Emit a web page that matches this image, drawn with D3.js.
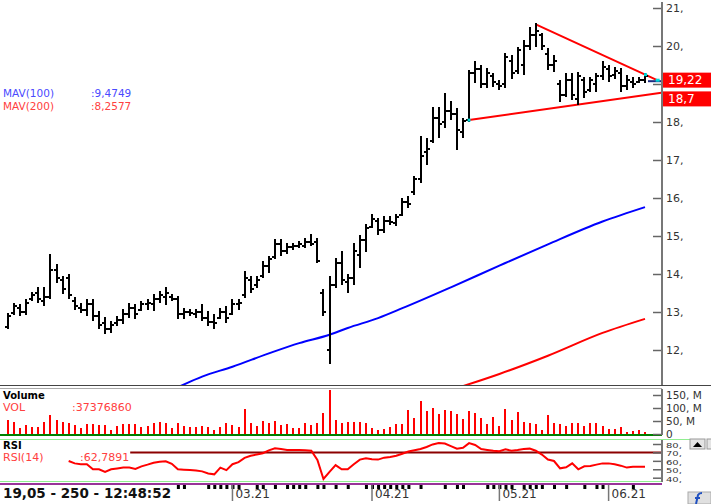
<!DOCTYPE html>
<html>
<head>
<meta charset="utf-8">
<script src="https://cdn.jsdelivr.net/npm/d3@7"></script>
<style>
  html, body { margin: 0; padding: 0; background: #fff; }
  svg { display: block; font-family: "DejaVu Sans", sans-serif; }
</style>
</head>
<body>
<svg id="chart" width="711" height="504"></svg>
<script>
// OHLC günlük barlar (soldan sağa), hacim milyon adet, RSI(14)
const high = [12.94,13.22,13.18,13.31,13.49,13.62,13.62,14.49,14.23,13.92,
  13.97,13.36,13.22,13.31,13.31,13.0,12.83,12.74,12.87,13.05,
  13.2,13.18,13.27,13.31,13.44,13.53,13.62,13.44,13.40,13.09,
  13.05,13.05,13.18,13.01,12.92,13.09,13.14,13.31,13.31,14.06,
  13.92,13.92,14.32,14.45,14.89,14.89,14.80,14.80,14.84,14.93,
  15.02,14.93,13.57,13.92,14.40,14.58,13.97,14.80,15.0,15.28,
  15.54,15.45,15.50,15.50,15.54,15.98,16.02,16.55,17.60,17.55,
  18.38,18.38,18.73,18.52,18.34,18.08,19.35,19.58,19.48,19.39,
  19.26,19.08,19.78,19.74,19.96,20.13,20.48,20.57,20.31,19.92,
  19.74,19.08,19.26,19.26,19.30,19.17,19.17,19.26,19.57,19.48,
  19.43,19.39,19.22,19.17,19.17,19.26];
const low = [12.57,12.96,12.92,12.96,13.31,13.27,13.18,13.36,13.79,13.49,
  13.36,13.09,13.0,12.92,12.79,12.57,12.44,12.48,12.66,12.70,
  12.87,12.83,13.05,13.09,13.05,13.27,13.22,13.31,12.83,12.83,
  12.92,12.88,12.79,12.66,12.57,12.83,12.74,12.96,13.09,13.40,
  13.53,13.66,13.92,14.06,14.41,14.49,14.54,14.67,14.71,14.71,
  14.76,14.32,12.92,11.65,13.66,13.75,13.53,13.75,14.19,14.60,
  15.24,15.06,15.10,15.32,15.28,15.54,15.76,16.11,16.42,16.90,
  17.47,17.60,17.86,18.08,17.29,17.60,18.03,19.05,18.91,18.91,
  18.95,18.87,18.91,19.17,19.30,19.26,19.92,20.0,19.92,19.39,
  19.35,18.56,18.69,18.60,18.47,18.65,18.82,18.82,19.13,19.08,
  19.17,18.82,18.87,18.91,19.04,19.04];
const open = [12.6,12.98,13.1,13.0,13.35,13.5,13.3,13.4,14.1,13.85,
  13.9,13.3,13.1,13.05,13.2,12.9,12.7,12.55,12.7,12.8,
  12.95,13.1,13.05,13.2,13.2,13.35,13.4,13.4,13.35,12.95,
  13.0,12.95,13.0,12.85,12.75,12.85,13.0,12.95,13.2,13.45,
  13.85,13.7,13.95,14.2,14.45,14.8,14.6,14.7,14.75,14.75,
  14.85,14.85,13.5,12.0,13.7,14.3,13.8,13.9,14.5,14.9,
  15.25,15.4,15.15,15.4,15.35,15.55,15.9,16.15,16.5,17.2,
  17.5,18.1,18.0,18.3,18.2,17.75,18.05,19.3,19.4,19.0,
  19.2,19.0,19.0,19.6,19.35,19.5,20.0,20.3,20.3,19.8,
  19.5,19.0,18.7,19.1,18.6,19.1,18.85,19.0,19.2,19.4,
  19.25,19.3,18.95,19.05,19.05,19.1];
const close = [12.9,13.15,13.0,13.25,13.45,13.35,13.4,14.1,13.9,13.6,
  13.45,13.15,13.05,13.2,12.9,12.65,12.55,12.65,12.8,12.95,
  13.1,12.95,13.2,13.25,13.35,13.45,13.5,13.35,12.95,13.0,
  12.98,13.0,12.85,12.75,12.7,13.0,12.85,13.2,13.25,13.9,
  13.6,13.85,14.2,14.4,14.8,14.6,14.7,14.75,14.78,14.85,
  14.8,14.35,13.0,13.7,14.3,13.85,13.9,14.6,14.9,15.2,
  15.45,15.15,15.4,15.38,15.5,15.9,15.85,16.5,17.1,17.3,
  18.1,17.95,18.3,18.2,17.8,18.03,19.3,19.4,19.0,19.3,
  19.05,18.95,19.7,19.3,19.9,20.0,20.3,20.4,20.0,19.5,
  19.6,18.7,19.1,18.7,19.2,18.8,19.1,19.2,19.45,19.2,
  19.35,18.95,19.1,19.0,19.1,19.22];
const volume = [54,47,22,35,28,26,45,73,54,45,
  44,35,24,37,37,35,35,15,31,37,
  37,37,26,32,44,47,44,24,41,31,
  26,26,32,26,15,28,41,35,28,95,
  44,31,50,44,50,35,37,22,22,44,
  35,44,80,170,54,44,47,47,47,44,
  22,15,18,26,38,38,92,60,127,90,
  99,77,92,90,77,56,88,80,60,38,
  64,31,96,54,83,45,41,38,15,73,
  44,37,31,41,41,31,44,44,32,18,
  18,26,9,13,15,9];
const rsiStart = 10;
const rsi = [59.8,57,56,56,50,50,47,50,51,52,
  52,50.5,53.5,55.5,57.8,59,59.5,56.5,50,49.5,
  49,48.5,47.5,45,44,52,49,56,58.5,63.5,
  66,67.5,69,72.5,75,74,72.9,72.9,72.9,72.5,
  72,61,38.5,47,55,50,50,56,61.5,63,
  62,61.5,63.8,64.5,66,68.5,71,72.5,74,76.5,
  79.5,81.3,80.5,77.5,74.5,75.5,81,78.8,74,73,
  72,71.5,73.7,72,72.9,74,74.5,72,67.5,61.5,
  59.8,51.1,52.3,57,50,53.5,53.9,55.5,57,57,
  56,54.3,52,53,53,53];
// hareketli ortalamalar, resimden okunan noktalar (bar indeksi, fiyat)
const ma100Idx = [28,32,37,43,48,53,56,61,65,73,81,89,98,105];
const ma100 = [11.02,11.30,11.56,11.91,12.18,12.40,12.58,12.84,13.10,13.65,14.22,14.78,15.38,15.76];
const ma200Idx = [75,81,89,98,105];
const ma200 = [11.05,11.37,11.85,12.45,12.82];
// üçgen formasyonu trend çizgileri
const trendTop = [[87,20.57],[107,19.1]];
const trendBottom = [[76,18.05],[107.7,18.77]];

const priceTicks = [12,13,14,15,16,17,18,19,20,21];
const hiddenPriceLabels = [19];   // kutuların altında kalıyor
const volTicks = [0,50,100,150];
const rsiTicks = [40,50,60,70,80];
const monthIdx = [37,60,81,99];
const monthLabels = ["03.21","04.21","05.21","06.21"];
const dayMarks = [28,29,33,34,35,36,37,38,41,42,44,46,47,48,49,51,52,54,56,59,60,61,62,63,64,65,66,68,72,74,75,79,80,81,82,83,85,86,87,88,90,92,95,97,98,103];
const lastClose = "19,22", lowerLevel = "18,7";

const W = 711, H = 504, axisX = 662;
const svg = d3.select("#chart");

const x = d3.scaleLinear().domain([0, high.length - 1]).range([8, 645]);
const yP = d3.scaleLinear().domain([12, 21]).range([350, 8]);
const yV = d3.scaleLinear().domain([0, 150]).range([434, 395]);
const yR = d3.scaleLinear().domain([40, 80]).range([477.7, 444]);

const defs = svg.append("defs");
defs.append("clipPath").attr("id", "cMain").append("rect").attr("x", 0).attr("y", 0).attr("width", axisX).attr("height", 385);
defs.append("clipPath").attr("id", "cVol").append("rect").attr("x", 0).attr("y", 390).attr("width", axisX).attr("height", 45);

// --- çerçeve çizgileri
const frame = svg.append("g").attr("shape-rendering", "crispEdges");
frame.append("line").attr("x1", 0).attr("x2", W).attr("y1", 385.5).attr("y2", 385.5).attr("stroke", "#444").attr("stroke-width", 1.5);
frame.append("line").attr("x1", 0).attr("x2", axisX).attr("y1", 388.5).attr("y2", 388.5).attr("stroke", "#aaa");
frame.append("line").attr("x1", 0).attr("x2", axisX).attr("y1", yV(0) + 1).attr("y2", yV(0) + 1).attr("stroke", "#008000").attr("stroke-width", 2);
frame.append("line").attr("x1", 0).attr("x2", 690).attr("y1", 439.5).attr("y2", 439.5).attr("stroke", "#90ee90");
frame.append("line").attr("x1", 0).attr("x2", axisX).attr("y1", 481.5).attr("y2", 481.5).attr("stroke", "#90ee90");
frame.append("line").attr("x1", 0).attr("x2", axisX).attr("y1", 483.5).attr("y2", 483.5).attr("stroke", "#993399").attr("stroke-width", 2);

// --- fiyat paneli
const main = svg.append("g").attr("clip-path", "url(#cMain)");
const line = d3.line().x(d => x(d[0])).y(d => yP(d[1]));
const smooth = d3.line().x(d => x(d[0])).y(d => yP(d[1])).curve(d3.curveMonotoneX);

main.append("path").datum(ma100Idx.map((k, i) => [k, ma100[i]]))
  .attr("fill", "none").attr("stroke", "#0000ff").attr("stroke-width", 2).attr("d", smooth);
main.append("path").datum(ma200Idx.map((k, i) => [k, ma200[i]]))
  .attr("fill", "none").attr("stroke", "#ff0000").attr("stroke-width", 2).attr("d", smooth);

main.append("path").datum(trendTop).attr("fill", "none").attr("stroke", "#ff0000").attr("stroke-width", 2).attr("d", line);
main.append("path").datum(trendBottom).attr("fill", "none").attr("stroke", "#ff0000").attr("stroke-width", 2).attr("d", line);

const bars = main.append("g").attr("stroke", "#000").attr("stroke-width", 2).attr("shape-rendering", "crispEdges");
high.forEach((h, i) => {
  const g = bars.append("g");
  g.append("line").attr("x1", x(i)).attr("x2", x(i)).attr("y1", yP(h) - 1).attr("y2", yP(low[i]) + 1);
  g.append("line").attr("x1", x(i) - 3).attr("x2", x(i)).attr("y1", yP(open[i])).attr("y2", yP(open[i]));
  g.append("line").attr("x1", x(i)).attr("x2", x(i) + 3).attr("y1", yP(close[i])).attr("y2", yP(close[i]));
});

main.append("rect").attr("x", x(trendBottom[0][0]) - 1.5).attr("y", yP(trendBottom[0][1]) - 1.5)
  .attr("width", 3).attr("height", 3).attr("fill", "#00d8d8");
main.append("rect").attr("x", x(high.length - 1) - 1).attr("y", yP(high[high.length - 1]) - 1)
  .attr("width", 3).attr("height", 3).attr("fill", "#00d8d8");
main.append("line").attr("x1", x(high.length - 1) + 3).attr("x2", axisX).attr("y1", yP(trendTop[1][1]) + 1).attr("y2", yP(trendTop[1][1]) + 1)
  .attr("stroke", "#1a2a80").attr("stroke-width", 2);
main.append("rect").attr("x", x(trendTop[1][0]) - 1.5).attr("y", yP(trendTop[1][1]) - 1.5)
  .attr("width", 4).attr("height", 3).attr("fill", "#00d8d8");

// MAV etiketleri
svg.append("text").attr("x", 3).attr("y", 97).attr("font-size", 10.5).attr("fill", "#4a4aff").text("MAV(100)");
svg.append("text").attr("x", 91).attr("y", 97).attr("font-size", 10.5).attr("fill", "#4a4aff").text(":9,4749");
svg.append("text").attr("x", 3).attr("y", 109.5).attr("font-size", 10.5).attr("fill", "#ff4040").text("MAV(200)");
svg.append("text").attr("x", 91).attr("y", 109.5).attr("font-size", 10.5).attr("fill", "#ff4040").text(":8,2577");

// --- hacim paneli
svg.append("g").attr("clip-path", "url(#cVol)").selectAll("line").data(volume).join("line")
  .attr("x1", (d, i) => x(i)).attr("x2", (d, i) => x(i))
  .attr("y1", yV(0)).attr("y2", d => yV(d))
  .attr("stroke", "#ff0000").attr("stroke-width", 2).attr("shape-rendering", "crispEdges");
svg.append("text").attr("x", 3).attr("y", 398.5).attr("font-size", 10).attr("font-weight", "bold").attr("fill", "#000").text("Volume");
svg.append("text").attr("x", 3).attr("y", 410.5).attr("font-size", 11).attr("fill", "#ff4040").text("VOL");
svg.append("text").attr("x", 72).attr("y", 410.5).attr("font-size", 11).attr("fill", "#ff4040").text(":37376860");

// --- RSI paneli
svg.append("text").attr("x", 3).attr("y", 448.5).attr("font-size", 10).attr("font-weight", "bold").attr("fill", "#000").text("RSI");
svg.append("text").attr("x", 3).attr("y", 460.5).attr("font-size", 11).attr("fill", "#ff4040").text("RSI(14)");
const rsiVal = svg.append("text").attr("x", 80).attr("y", 460.5).attr("font-size", 11).attr("fill", "#ff4040").text(":62,7891");
const lblEnd = rsiVal.node().getBBox();
svg.append("line").attr("x1", lblEnd.x + lblEnd.width + 1).attr("x2", axisX).attr("y1", yR(70)).attr("y2", yR(70))
  .attr("stroke", "#8b0000").attr("stroke-width", 2);
svg.append("path").datum(rsi).attr("fill", "none").attr("stroke", "#ff0000").attr("stroke-width", 2)
  .attr("d", d3.line().x((d, i) => x(i + rsiStart)).y(d => yR(d)));

// --- sağ eksenler
function rightAxis(scale, major, minor, fmt, y0, y1, fs, squash) {
  const g = svg.append("g").attr("transform", `translate(${axisX},0)`);
  g.call(d3.axisRight(scale).tickValues(minor).tickSizeInner(-5).tickSizeOuter(0).tickFormat(""));
  g.call(d3.axisRight(scale).tickValues(major).tickSizeInner(-9).tickSizeOuter(0).tickPadding(4).tickFormat(fmt));
  g.selectAll(".domain").remove();
  g.selectAll("line").attr("stroke", "#666").attr("stroke-width", 1.5);
  g.selectAll("text").attr("fill", "#333").attr("font-size", fs).attr("font-family", "DejaVu Sans, sans-serif");
  g.selectAll("text").filter(function () { return this.textContent === ""; }).remove();
  if (squash) g.selectAll("text").attr("dy", null).attr("y", 3.5 / squash).attr("transform", `scale(1,${squash})`);
  g.append("line").attr("x1", 0).attr("x2", 0).attr("y1", y0).attr("y2", y1).attr("stroke", "#777").attr("stroke-width", 2);
}
rightAxis(yP, priceTicks, d3.range(11.5, 21.01, 0.5).filter(v => yP(v) < 385),
  d => hiddenPriceLabels.includes(d) ? "" : d + ",", 2, 385, 11);
rightAxis(yV, volTicks, [25, 75, 125], d => d === 0 ? "0" : d + ", M", 389, 435, 10.5);
rightAxis(yR, rsiTicks, [45, 55, 65, 75], d => d + ",", 440, 482, 10, 0.68);

// fiyat kutuları
const boxes = [[lastClose, yP(19.22) - 3], [lowerLevel, yP(18.7) - 4]];
boxes.forEach(([t, top]) => {
  svg.append("rect").attr("x", 663).attr("y", top).attr("width", 48).attr("height", 15).attr("fill", "#ff0000");
  svg.append("text").attr("x", 668).attr("y", top + 11.5).attr("font-size", 12).attr("fill", "#fff").text(t);
});

// --- tarih ekseni
svg.append("g").selectAll("rect").data(dayMarks).join("rect")
  .attr("x", d => x(d) - 1).attr("y", 485).attr("width", 3).attr("height", 4).attr("fill", "#000");
svg.append("text").attr("x", 3).attr("y", 498).attr("font-size", 13.5).attr("font-weight", "bold").attr("fill", "#111")
  .text("19,05 - 250 - 12:48:52");
monthIdx.forEach((k, i) => {
  svg.append("line").attr("x1", x(k)).attr("x2", x(k)).attr("y1", 485).attr("y2", 501).attr("stroke", "#777").attr("stroke-width", 1.5);
  svg.append("text").attr("x", x(k) + 3).attr("y", 498).attr("font-size", 12).attr("fill", "#333").text(monthLabels[i]);
});

// küçük düğmeler
svg.append("rect").attr("x", 690).attr("y", 439).attr("width", 15).attr("height", 10).attr("fill", "#e4e4e4").attr("stroke", "#999");
svg.append("path").attr("d", "M693,447 L697.5,442 L702,447 Z").attr("fill", "#000");
svg.append("rect").attr("x", 707).attr("y", 439).attr("width", 6).attr("height", 10).attr("fill", "#e4e4e4").attr("stroke", "#999");
svg.append("rect").attr("x", 688).attr("y", 492).attr("width", 23).attr("height", 12).attr("fill", "#e0e0e0").attr("stroke", "#aaa");
svg.append("path").attr("d", "M696,504 L698,495 Q699,493 702,493 M695,498 L700,498")
  .attr("fill", "none").attr("stroke", "#2050c0").attr("stroke-width", 2);
</script>
</body>
</html>
